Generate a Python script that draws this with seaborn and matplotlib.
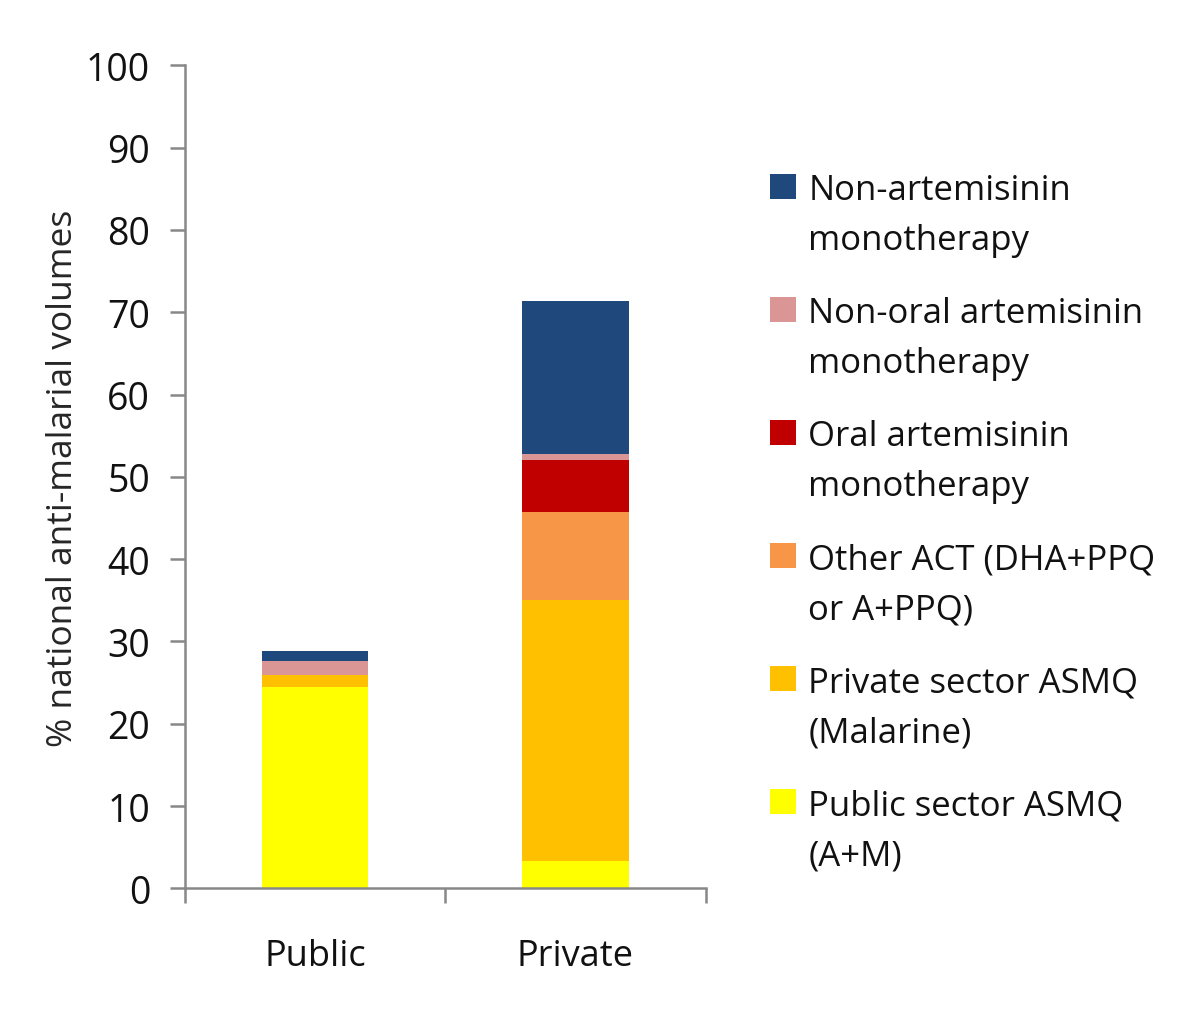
import numpy as np
import pandas as pd
import matplotlib
matplotlib.use('Agg')
import matplotlib.pyplot as plt
import seaborn as sns
from matplotlib.patches import Patch, Rectangle
from matplotlib.legend_handler import HandlerPatch

# Data, stacked bottom -> top
sectors = ['Public', 'Private']
series = ['Public sector ASMQ\n(A+M)',
          'Private sector ASMQ\n(Malarine)',
          'Other ACT (DHA+PPQ\nor A+PPQ)',
          'Oral artemisinin\nmonotherapy',
          'Non-oral artemisinin\nmonotherapy',
          'Non-artemisinin\nmonotherapy']
public_vals = [24.5, 1.4, 0.0, 0.0, 1.7, 1.3]
private_vals = [3.3, 31.7, 10.7, 6.4, 0.7, 18.6]
colors = ['#FFFF00', '#FFC000', '#F79646', '#C00000', '#D99694', '#1F497D']
yticks = list(range(0, 101, 10))

sns.set_style('white')
plt.rcParams['font.family'] = ['Open Sans', 'DejaVu Sans']
plt.rcParams['text.color'] = '#111111'

df = pd.DataFrame({'Public': public_vals, 'Private': private_vals}, index=series)
cum = df.cumsum()

fig = plt.figure(figsize=(12, 10.2), dpi=100)
ax = fig.add_axes([0.154, 0.128, 0.434, 0.807])

# Draw cumulative totals from the top series down so each layer shows its own segment
for name, c in zip(series[::-1], colors[::-1]):
    sns.barplot(x=sectors, y=cum.loc[name, sectors].values, color=c,
                width=0.41, saturation=1, ax=ax, linewidth=0)

ax.set_ylim(0, 100)
ax.set_xlim(-0.5, 1.5)
ax.set_yticks(yticks)
ax.set_yticklabels([str(t) for t in yticks], fontsize=27)
ax.set_ylabel('% national anti-malarial volumes', fontsize=25.5, labelpad=4)
ax.set_xlabel('')

axis_col = '#888888'
for s in ['top', 'right']:
    ax.spines[s].set_visible(False)
for s in ['left', 'bottom']:
    ax.spines[s].set_color(axis_col)
    ax.spines[s].set_linewidth(1.8)

ax.tick_params(axis='y', which='major', left=True, length=11, width=1.8,
               color=axis_col, pad=14, labelcolor='#111111')
ax.set_xticks([-0.5, 0.5, 1.5], minor=True)
ax.tick_params(axis='x', which='minor', bottom=True, length=11, width=1.8,
               color=axis_col, direction='out')
ax.tick_params(axis='x', which='major', bottom=False, labelsize=26, pad=32,
               labelcolor='#111111')


def top_square(legend, orig_handle, xdescent, ydescent, width, height, fontsize):
    sq = 0.74 * fontsize
    return Rectangle((-xdescent, -ydescent + height - sq + 0.33 * fontsize), sq, sq)


handles = [Patch(facecolor=c, edgecolor='none') for c in colors[::-1]]
leg = fig.legend(handles, series[::-1], loc='upper left', bbox_to_anchor=(0.616, 0.860),
                 frameon=False, fontsize=25, handlelength=0.74, handleheight=2.5,
                 handletextpad=0.35, labelspacing=1.12,
                 handler_map={Patch: HandlerPatch(patch_func=top_square)})
for t in leg.get_texts():
    t.set_linespacing(1.62)

fig.savefig('out.png', dpi=100)
